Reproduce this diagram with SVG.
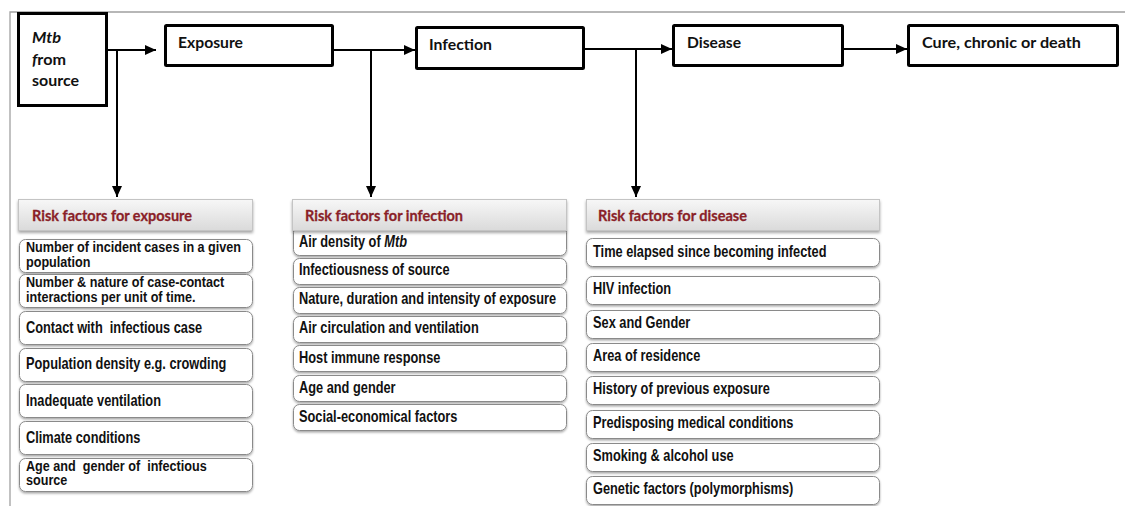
<svg xmlns="http://www.w3.org/2000/svg" width="1125" height="506" viewBox="0 0 1125 506">
<style>
.stage{fill:#fff;stroke:#000;stroke-width:3}
.st{font-family:Lato,"Open Sans","Liberation Sans",sans-serif;font-weight:bold;font-size:16px;fill:#111}
.hdr{fill:url(#hg);stroke:#c4c4c4;stroke-width:1;filter:url(#sh)}
.ht{font-family:Lato,"Liberation Sans",sans-serif;font-weight:bold;font-size:15.5px;fill:#8a1f28;stroke:#8a1f28;stroke-width:0.3}
.item{fill:#fff;stroke:#8a8a8a;stroke-width:1;filter:url(#sh2)}
.it{font-family:"Liberation Sans",Arial,sans-serif;font-weight:bold;font-size:16px;fill:#111;white-space:pre}
.it2{font-family:"Liberation Sans",Arial,sans-serif;font-weight:bold;font-size:14.5px;fill:#111;white-space:pre}
.conn{fill:none;stroke:#000;stroke-width:2}
.frame{fill:none;stroke:#a0a0a0;stroke-width:1.3}
</style>
<defs>
<linearGradient id="hg" x1="0" y1="0" x2="0" y2="1">
<stop offset="0" stop-color="#f7f7f7"/>
<stop offset="1" stop-color="#dadada"/>
</linearGradient>
<filter id="sh" x="-5%" y="-20%" width="110%" height="150%">
<feDropShadow dx="0" dy="2" stdDeviation="1.5" flood-color="#000" flood-opacity="0.35"/>
</filter>
<filter id="sh2" x="-5%" y="-20%" width="110%" height="150%">
<feDropShadow dx="0" dy="1.5" stdDeviation="0.8" flood-color="#000" flood-opacity="0.35"/>
</filter>
<marker id="ah" markerUnits="userSpaceOnUse" markerWidth="12" markerHeight="12" viewBox="0 0 12 12" refX="11" refY="6" orient="auto">
<path d="M0,1 L11,6 L0,11 Z" fill="#000"/>
</marker>
</defs>
<rect width="1125" height="506" fill="#fff"/>
<path class="frame" d="M10,506 V12 H1125"/>

<g id="connectors">
<path class="conn" d="M107,50 H156" marker-end="url(#ah)"/>
<path class="conn" d="M117,50 V197" marker-end="url(#ah)"/>
<path class="conn" d="M333,50 H415" marker-end="url(#ah)"/>
<path class="conn" d="M371,50 V197" marker-end="url(#ah)"/>
<path class="conn" d="M584,49 H672" marker-end="url(#ah)"/>
<path class="conn" d="M636,49 V197" marker-end="url(#ah)"/>
<path class="conn" d="M843,49 H907" marker-end="url(#ah)"/>
</g>

<g id="node-mtb">
<rect class="stage" x="18.5" y="13.5" width="88" height="92"/>
<text class="st" x="32" y="43" font-style="italic" textLength="29" lengthAdjust="spacingAndGlyphs">Mtb</text>
<text class="st" x="32" y="65" textLength="34" lengthAdjust="spacingAndGlyphs"><tspan font-style="italic">f</tspan>rom</text>
<text class="st" x="32" y="86" textLength="47" lengthAdjust="spacingAndGlyphs">source</text>
</g>
<g id="node-exposure">
<rect class="stage" x="165.5" y="25.5" width="167" height="40" rx="1"/>
<text class="st" x="178" y="48" textLength="65" lengthAdjust="spacingAndGlyphs">Exposure</text>
</g>
<g id="node-infection">
<rect class="stage" x="416.5" y="27.5" width="167" height="41" rx="1"/>
<text class="st" x="429" y="50" textLength="63" lengthAdjust="spacingAndGlyphs">Infection</text>
</g>
<g id="node-disease">
<rect class="stage" x="673.5" y="25.5" width="169" height="40" rx="1"/>
<text class="st" x="687" y="48" textLength="54" lengthAdjust="spacingAndGlyphs">Disease</text>
</g>
<g id="node-cure">
<rect class="stage" x="908.5" y="25.5" width="209" height="40" rx="1"/>
<text class="st" x="922" y="48" textLength="159" lengthAdjust="spacingAndGlyphs">Cure, chronic or death</text>
</g>

<g id="risk-exposure">
<rect class="item" x="19.5" y="239.5" width="233" height="33" rx="6"/>
<rect class="item" x="19.5" y="274.5" width="233" height="33" rx="6"/>
<rect class="item" x="19.5" y="311.5" width="233" height="33" rx="6"/>
<rect class="item" x="19.5" y="348.5" width="233" height="33" rx="6"/>
<rect class="item" x="19.5" y="384.5" width="233" height="33" rx="6"/>
<rect class="item" x="19.5" y="421.5" width="233" height="33" rx="6"/>
<rect class="item" x="19.5" y="458.5" width="233" height="33" rx="6"/>
<rect class="hdr" x="18.5" y="199.5" width="234" height="31"/>
<text class="ht" x="32" y="221" textLength="160" lengthAdjust="spacingAndGlyphs">Risk factors for exposure</text>
<text class="it2" transform="translate(26,252) scale(0.87,1)">Number of incident cases in a given</text>
<text class="it2" transform="translate(26,266.5) scale(0.87,1)">population</text>
<text class="it2" transform="translate(26,287) scale(0.87,1)">Number &amp; nature of case-contact</text>
<text class="it2" transform="translate(26,301.5) scale(0.87,1)">interactions per unit of time.</text>
<text class="it" transform="translate(26,333) scale(0.8,1)">Contact with  infectious case</text>
<text class="it" transform="translate(26,369) scale(0.8,1)">Population density e.g. crowding</text>
<text class="it" transform="translate(26,406) scale(0.8,1)">Inadequate ventilation</text>
<text class="it" transform="translate(26,443) scale(0.8,1)">Climate conditions</text>
<text class="it2" transform="translate(26,470.5) scale(0.87,1)">Age and  gender of  infectious</text>
<text class="it2" transform="translate(26,485) scale(0.87,1)">source</text>
</g>

<g id="risk-infection">
<rect class="item" x="293.5" y="226.5" width="273" height="29" rx="6"/>
<rect class="item" x="293.5" y="258.5" width="273" height="26" rx="6"/>
<rect class="item" x="293.5" y="287.5" width="273" height="26" rx="6"/>
<rect class="item" x="293.5" y="316.5" width="273" height="26" rx="6"/>
<rect class="item" x="293.5" y="345.5" width="273" height="26" rx="6"/>
<rect class="item" x="293.5" y="375.5" width="273" height="26" rx="6"/>
<rect class="item" x="293.5" y="404.5" width="273" height="26" rx="6"/>
<rect class="hdr" x="292.5" y="199.5" width="274" height="31"/>
<text class="ht" x="305" y="221" textLength="158" lengthAdjust="spacingAndGlyphs">Risk factors for infection</text>
<text class="it" transform="translate(299,247) scale(0.8,1)">Air density of <tspan font-style="italic">Mtb</tspan></text>
<text class="it" transform="translate(299,275) scale(0.8,1)">Infectiousness of source</text>
<text class="it" transform="translate(299,304) scale(0.8,1)">Nature, duration and intensity of exposure</text>
<text class="it" transform="translate(299,333) scale(0.8,1)">Air circulation and ventilation</text>
<text class="it" transform="translate(299,363) scale(0.8,1)">Host immune response</text>
<text class="it" transform="translate(299,393) scale(0.8,1)">Age and gender</text>
<text class="it" transform="translate(299,422) scale(0.8,1)">Social-economical factors</text>
</g>

<g id="risk-disease">
<rect class="item" x="586.5" y="238.5" width="293" height="28" rx="6"/>
<rect class="item" x="586.5" y="276.5" width="293" height="28" rx="6"/>
<rect class="item" x="586.5" y="310.5" width="293" height="28" rx="6"/>
<rect class="item" x="586.5" y="343.5" width="293" height="28" rx="6"/>
<rect class="item" x="586.5" y="376.5" width="293" height="28" rx="6"/>
<rect class="item" x="586.5" y="410.5" width="293" height="28" rx="6"/>
<rect class="item" x="586.5" y="443.5" width="293" height="28" rx="6"/>
<rect class="item" x="586.5" y="476.5" width="293" height="28" rx="6"/>
<rect class="hdr" x="586.5" y="199.5" width="293" height="31"/>
<text class="ht" x="598" y="221" textLength="149" lengthAdjust="spacingAndGlyphs">Risk factors for disease</text>
<text class="it" transform="translate(593,257) scale(0.8,1)">Time elapsed since becoming infected</text>
<text class="it" transform="translate(593,294) scale(0.8,1)">HIV infection</text>
<text class="it" transform="translate(593,328) scale(0.8,1)">Sex and Gender</text>
<text class="it" transform="translate(593,361) scale(0.8,1)">Area of residence</text>
<text class="it" transform="translate(593,394) scale(0.8,1)">History of previous exposure</text>
<text class="it" transform="translate(593,428) scale(0.8,1)">Predisposing medical conditions</text>
<text class="it" transform="translate(593,461) scale(0.8,1)">Smoking &amp; alcohol use</text>
<text class="it" transform="translate(593,494) scale(0.8,1)">Genetic factors (polymorphisms)</text>
</g>
</svg>
